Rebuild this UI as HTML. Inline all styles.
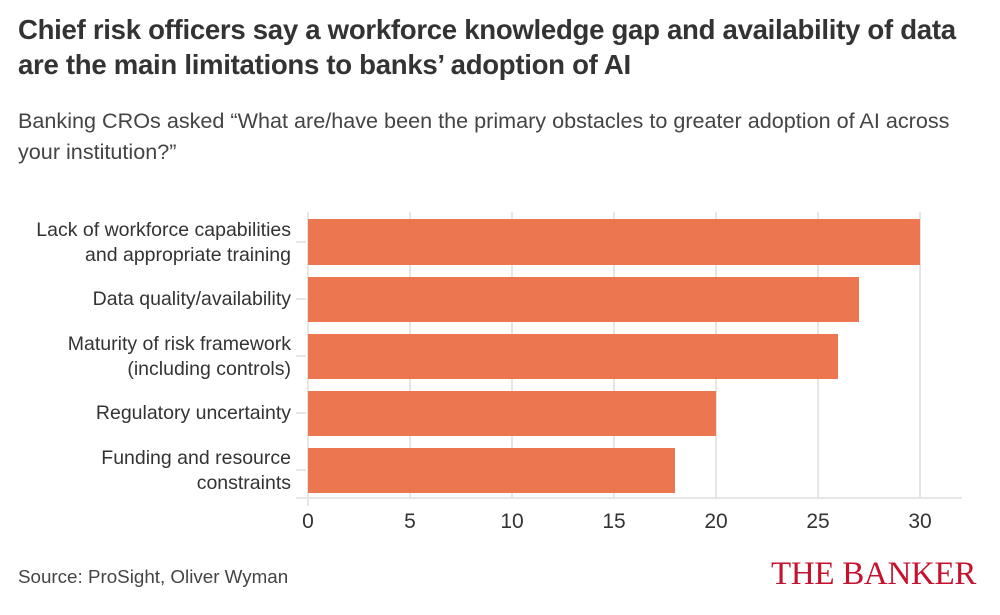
<!DOCTYPE html>
<html><head><meta charset="utf-8"><style>
body{margin:0;width:1000px;height:615px;background:#fff;font-family:"Liberation Sans",sans-serif;position:relative;overflow:hidden;color:#333}
.t{position:absolute;left:18px;top:12px;font-size:27.6px;font-weight:bold;line-height:35px;color:#333;letter-spacing:-0.3px;white-space:nowrap}
.s{position:absolute;left:18px;top:105px;font-size:21.6px;line-height:31px;color:#444;white-space:nowrap}
.lab{position:absolute;right:709px;text-align:right;font-size:19.5px;line-height:25px;color:#333;white-space:nowrap}
.x{position:absolute;top:510px;font-size:21px;color:#333;width:40px;text-align:center}
.src{position:absolute;left:18px;top:566px;font-size:18.8px;color:#444}
.bk{position:absolute;left:771px;top:556px;font-family:"Liberation Serif",serif;font-size:33px;color:#c4122f;letter-spacing:-0.3px;white-space:nowrap}
</style></head><body>
<div class="t">Chief risk officers say a workforce knowledge gap and availability of data<br>are the main limitations to banks’ adoption of AI</div>
<div class="s">Banking CROs asked “What are/have been the primary obstacles to greater adoption of AI across<br>your institution?”</div>
<svg width="1000" height="615" style="position:absolute;left:0;top:0">
<g stroke="#e6e6e6" stroke-width="2">
<line x1="410" y1="212" x2="410" y2="498"/><line x1="512" y1="212" x2="512" y2="498"/><line x1="614" y1="212" x2="614" y2="498"/><line x1="716" y1="212" x2="716" y2="498"/><line x1="818" y1="212" x2="818" y2="498"/><line x1="920" y1="212" x2="920" y2="498"/><line x1="308" y1="212" x2="308" y2="506"/>
<line x1="296" y1="498" x2="962" y2="498"/>
<line x1="296" y1="242" x2="306" y2="242"/><line x1="296" y1="299" x2="306" y2="299"/><line x1="296" y1="356" x2="306" y2="356"/><line x1="296" y1="413" x2="306" y2="413"/><line x1="296" y1="470" x2="306" y2="470"/>
</g>
<g fill="#ec7650">
<rect x="308" y="219" width="612" height="46"/>
<rect x="308" y="277" width="551" height="45"/>
<rect x="308" y="334" width="530" height="45"/>
<rect x="308" y="391" width="408" height="45"/>
<rect x="308" y="448" width="367" height="45"/>
</g></svg>
<div class="lab" style="top:218px">Lack of workforce capabilities<br>and appropriate training</div>
<div class="lab" style="top:287px">Data quality/availability</div>
<div class="lab" style="top:332px">Maturity of risk framework<br>(including controls)</div>
<div class="lab" style="top:401px">Regulatory uncertainty</div>
<div class="lab" style="top:446px">Funding and resource<br>constraints</div>
<div class="x" style="left:288px">0</div><div class="x" style="left:390px">5</div><div class="x" style="left:492px">10</div><div class="x" style="left:594px">15</div><div class="x" style="left:696px">20</div><div class="x" style="left:798px">25</div><div class="x" style="left:900px">30</div>
<div class="src">Source: ProSight, Oliver Wyman</div>
<div class="bk">THE BANKER</div>
</body></html>
